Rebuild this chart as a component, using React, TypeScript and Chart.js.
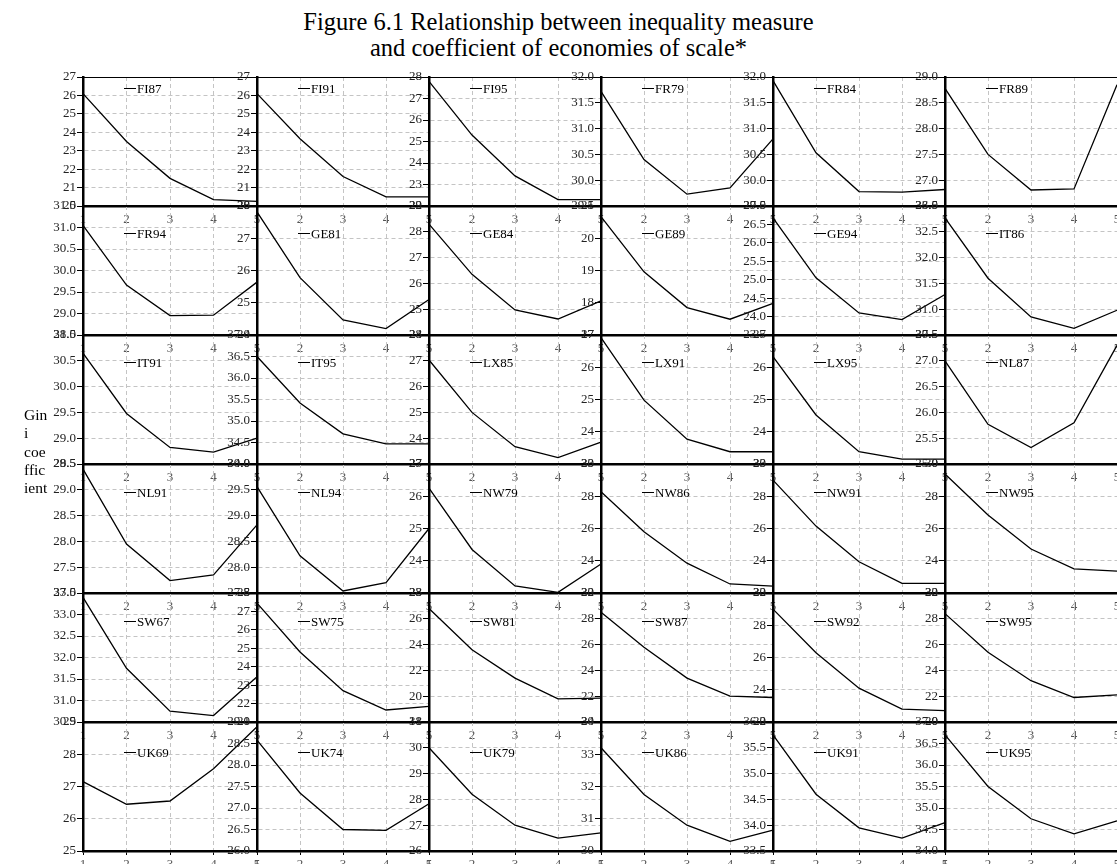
import React, { useEffect, useRef } from "react";
import { Chart, registerables } from "chart.js";

Chart.register(...registerables);

const FONT = '"Liberation Serif", "Times New Roman", Times, serif';

// ---------- data ----------
const xTicks = ["1", "2", "3", "4", "5"];

const panelNames = [
  "FI87", "FI91", "FI95", "FR79", "FR84", "FR89",
  "FR94", "GE81", "GE84", "GE89", "GE94", "IT86",
  "IT91", "IT95", "LX85", "LX91", "LX95", "NL87",
  "NL91", "NL94", "NW79", "NW86", "NW91", "NW95",
  "SW67", "SW75", "SW81", "SW87", "SW92", "SW95",
  "UK69", "UK74", "UK79", "UK86", "UK91", "UK95",
];

const yMin = [
  20, 20, 22, 29.5, 29.5, 26.5,
  28.5, 24, 24, 17, 23.5, 30.5,
  28.5, 34, 23, 23, 23, 25,
  27, 27.5, 23, 22, 22, 22,
  30.5, 21, 18, 20, 22, 20,
  25, 26, 26, 30, 33.5, 34,
];
const yMax = [
  27, 27, 28, 32, 32, 29,
  31.5, 28, 29, 21, 27, 33,
  31, 37, 28, 27, 27, 27.5,
  29.5, 30, 27, 30, 30, 30,
  33.5, 28, 28, 30, 30, 30,
  29, 29, 31, 34, 36, 37,
];
const yStep = [
  1, 1, 1, 0.5, 0.5, 0.5,
  0.5, 1, 1, 1, 0.5, 0.5,
  0.5, 0.5, 1, 1, 1, 0.5,
  0.5, 0.5, 1, 2, 2, 2,
  0.5, 1, 2, 2, 2, 2,
  1, 0.5, 1, 1, 0.5, 0.5,
];

const FI87 = [26.1, 23.5, 21.5, 20.35, 20.25];
const FI91 = [26.1, 23.65, 21.6, 20.5, 20.5];
const FI95 = [27.8, 25.3, 23.4, 22.3, 22.3];
const FR79 = [31.72, 30.4, 29.73, 29.85, 30.8];
const FR84 = [31.93, 30.53, 29.78, 29.77, 29.82];
const FR89 = [28.78, 27.5, 26.81, 26.83, 28.85];

const FR94 = [31.05, 29.66, 28.95, 28.96, 29.73];
const GE81 = [27.82, 25.78, 24.47, 24.2, 25.1];
const GE84 = [28.3, 26.35, 24.97, 24.62, 25.32];
const GE89 = [20.67, 18.96, 17.85, 17.49, 17.98];
const GE94 = [26.68, 25.05, 24.1, 23.92, 24.6];
const IT86 = [32.77, 31.6, 30.85, 30.63, 30.98];

const IT91 = [30.65, 29.48, 28.82, 28.73, 29.0];
const IT95 = [36.5, 35.42, 34.7, 34.47, 34.47];
const LX85 = [27.03, 25.0, 23.67, 23.25, 23.85];
const LX91 = [26.92, 24.98, 23.77, 23.38, 23.38];
const LX95 = [26.33, 24.52, 23.38, 23.15, 23.15];
const NL87 = [27.0, 25.77, 25.32, 25.8, 27.3];

const NL91 = [29.4, 27.95, 27.24, 27.35, 28.32];
const NL94 = [29.56, 28.22, 27.54, 27.7, 28.75];
const NW79 = [26.25, 24.35, 23.22, 23.02, 23.9];
const NW86 = [28.28, 25.8, 23.85, 22.56, 22.43];
const NW91 = [29.0, 26.15, 23.94, 22.6, 22.6];
const NW95 = [29.38, 26.84, 24.73, 23.5, 23.36];

const SW67 = [33.4, 31.75, 30.75, 30.65, 31.55];
const SW75 = [27.45, 24.8, 22.7, 21.65, 21.85];
const SW81 = [26.8, 23.6, 21.4, 19.8, 19.85];
const SW87 = [28.5, 25.8, 23.4, 22.0, 21.9];
const SW92 = [29.0, 26.3, 24.1, 22.8, 22.7];
const SW95 = [28.4, 25.4, 23.2, 21.9, 22.1];

const UK69 = [27.15, 26.45, 26.55, 27.55, 28.85];
const UK74 = [28.58, 27.35, 26.5, 26.48, 27.1];
const UK79 = [30.0, 28.2, 27.0, 26.5, 26.7];
const UK86 = [33.2, 31.75, 30.8, 30.3, 30.65];
const UK91 = [35.75, 34.6, 33.95, 33.75, 34.05];
const UK95 = [36.7, 35.5, 34.75, 34.4, 34.7];

const giniSeries = [
  FI87, FI91, FI95, FR79, FR84, FR89,
  FR94, GE81, GE84, GE89, GE94, IT86,
  IT91, IT95, LX85, LX91, LX95, NL87,
  NL91, NL94, NW79, NW86, NW91, NW95,
  SW67, SW75, SW81, SW87, SW92, SW95,
  UK69, UK74, UK79, UK86, UK91, UK95,
];

const titleLines = [
  "Figure 6.1 Relationship between inequality measure",
  "and coefficient of economies of scale*",
];
const yTitleLines = ["Gin", "i", "coe", "ffic", "ient"];

// ---------- layout ----------
const PAGE_W = 1117;
const PAGE_H = 864;
const COL_X = [83, 257, 429, 601, 773, 945];
const ROW_Y = [77, 206, 335, 464, 593, 722];
const PLOT_H = 129;
const LPAD = 46;
const TPAD = 10;
const RPAD = 8;
const BPAD = 24;
const LEGEND_DY = [11, 27, 27, 28, 28, 30];

const framePlugin = {
  id: "panelFrame",
  afterDraw(chart: any) {
    const { ctx, chartArea: a } = chart;
    const opts = chart.options.plugins.panelFrame || {};
    ctx.save();
    ctx.strokeStyle = "#000";
    ctx.lineWidth = 1;
    ctx.beginPath();
    ctx.moveTo(a.left, Math.round(a.top) + 0.5);
    ctx.lineTo(a.right, Math.round(a.top) + 0.5);
    ctx.stroke();
    // legend entry
    const label = chart.data.datasets[0].label;
    const lx = a.left + 41;
    const ly = Math.round(a.top + (opts.legendDy || 12)) + 0.5;
    ctx.beginPath();
    ctx.moveTo(lx, ly);
    ctx.lineTo(lx + 12, ly);
    ctx.stroke();
    ctx.fillStyle = "#000";
    ctx.font = `13px ${FONT}`;
    ctx.textBaseline = "middle";
    ctx.textAlign = "left";
    ctx.fillText(label, lx + 13, ly + 1);
    ctx.restore();
  },
};

function Panel({ idx }: { idx: number }) {
  const ref = useRef<HTMLCanvasElement>(null);
  const col = idx % 6;
  const row = Math.floor(idx / 6);
  const plotLeft = COL_X[col];
  const plotW = (col < 5 ? COL_X[col + 1] : PAGE_W) - plotLeft;
  const cw = LPAD + plotW + RPAD;
  const ch = TPAD + PLOT_H + BPAD;

  useEffect(() => {
    const step = yStep[idx];
    const chart = new Chart(ref.current as HTMLCanvasElement, {
      type: "line",
      data: {
        labels: xTicks,
        datasets: [
          {
            label: panelNames[idx],
            data: giniSeries[idx],
            borderColor: "#000",
            borderWidth: 1.3,
            pointRadius: 0,
            tension: 0,
            fill: false,
          },
        ],
      },
      options: {
        animation: false,
        responsive: false,
        maintainAspectRatio: false,
        events: [],
        layout: { padding: { top: TPAD, right: RPAD, left: 0, bottom: 0 } },
        plugins: {
          legend: { display: false },
          tooltip: { enabled: false },
          title: { display: false },
          panelFrame: { legendDy: LEGEND_DY[row] },
        } as any,
        scales: {
          x: {
            type: "category",
            offset: false,
            grid: {
              color: "#c4c4c4",
              lineWidth: 1,
              tickLength: 4,
              tickColor: "#000",
              offset: false,
            },
            border: { color: "#000", width: 2.5, dash: [4, 3] },
            ticks: {
              color: "#555",
              font: { family: FONT, size: 13 },
              padding: 2,
              maxRotation: 0,
              autoSkip: false,
            },
            afterFit: (s: any) => {
              s.height = BPAD;
            },
          },
          y: {
            type: "linear",
            min: yMin[idx],
            max: yMax[idx],
            grid: {
              color: "#c4c4c4",
              lineWidth: 1,
              tickLength: 6,
              tickColor: "#000",
            },
            border: { color: "#000", width: 2.5, dash: [4, 3] },
            ticks: {
              stepSize: step,
              autoSkip: false,
              color: "#222",
              font: { family: FONT, size: 13 },
              padding: 1,
              callback: (v: any) =>
                step < 1 ? Number(v).toFixed(1) : String(Number(v)),
            },
            afterFit: (s: any) => {
              s.width = LPAD;
            },
          },
        },
      } as any,
      plugins: [framePlugin],
    });
    return () => chart.destroy();
  }, [idx]);

  return (
    <canvas
      ref={ref}
      width={cw}
      height={ch}
      style={{
        position: "absolute",
        left: plotLeft - LPAD,
        top: ROW_Y[row] - TPAD,
        width: cw,
        height: ch,
      }}
    />
  );
}

export default function App() {
  return (
    <div
      style={{
        position: "absolute",
        left: 0,
        top: 0,
        width: PAGE_W,
        height: PAGE_H,
        overflow: "hidden",
        background: "#fff",
        fontFamily: FONT,
      }}
    >
      <div
        style={{
          position: "absolute",
          left: 0,
          top: 9,
          width: PAGE_W,
          textAlign: "center",
          fontSize: 24.5,
          lineHeight: "26px",
          color: "#000",
        }}
      >
        {titleLines.map((t) => (
          <div key={t}>{t}</div>
        ))}
      </div>
      {panelNames.map((_, i) => (
        <Panel key={i} idx={i} />
      ))}
      <div
        style={{
          position: "absolute",
          left: 24,
          top: 406,
          fontSize: 15.5,
          lineHeight: "18.3px",
          color: "#000",
        }}
      >
        {yTitleLines.map((t, i) => (
          <div key={i}>{t}</div>
        ))}
      </div>
    </div>
  );
}
